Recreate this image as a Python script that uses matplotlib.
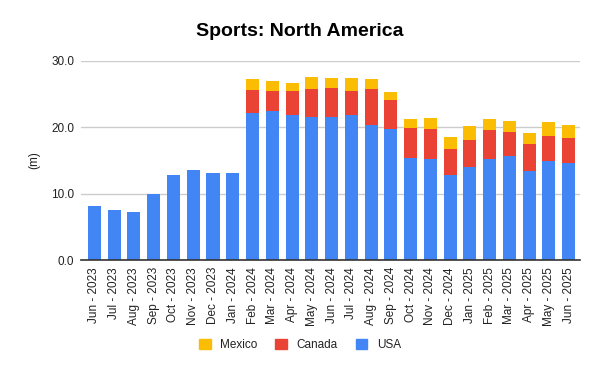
import matplotlib
matplotlib.use("Agg")
import matplotlib.pyplot as plt
from matplotlib.patches import Patch

plt.rcParams['font.family'] = ['Liberation Sans', 'DejaVu Sans']

months = ["Jun - 2023", "Jul - 2023", "Aug - 2023", "Sep - 2023", "Oct - 2023",
          "Nov - 2023", "Dec - 2023", "Jan - 2024", "Feb - 2024", "Mar - 2024",
          "Apr - 2024", "May - 2024", "Jun - 2024", "Jul - 2024", "Aug - 2024",
          "Sep - 2024", "Oct - 2024", "Nov - 2024", "Dec - 2024", "Jan - 2025",
          "Feb - 2025", "Mar - 2025", "Apr - 2025", "May - 2025", "Jun - 2025"]

usa = [8.1, 7.5, 7.2, 10.0, 12.8, 13.6, 13.1, 13.1, 22.2, 22.4, 21.8, 21.6, 21.5,
       21.8, 20.3, 19.8, 15.4, 15.2, 12.8, 14.0, 15.2, 15.7, 13.4, 14.9, 14.6]
canada = [0, 0, 0, 0, 0, 0, 0, 0, 3.4, 3.1, 3.7, 4.2, 4.4,
          3.7, 5.5, 4.3, 4.5, 4.6, 3.9, 4.1, 4.4, 3.6, 4.1, 3.8, 3.8]
mexico = [0, 0, 0, 0, 0, 0, 0, 0, 1.7, 1.4, 1.2, 1.8, 1.5,
          1.9, 1.5, 1.2, 1.4, 1.6, 1.8, 2.1, 1.7, 1.7, 1.7, 2.1, 2.0]

c_usa, c_can, c_mex = "#4285F4", "#EA4335", "#FBBC04"

fig = plt.figure(figsize=(6, 3.71), dpi=100)
ax = fig.add_axes([0.135, 0.299, 0.832, 0.537])

x = list(range(len(months)))
w = 0.66
ax.bar(x, usa, width=w, color=c_usa, zorder=3)
bottom2 = [u for u in usa]
ax.bar(x, canada, width=w, bottom=bottom2, color=c_can, zorder=3)
bottom3 = [u + c for u, c in zip(usa, canada)]
ax.bar(x, mexico, width=w, bottom=bottom3, color=c_mex, zorder=3)

ax.set_xlim(-0.68, 24.58)
ax.set_ylim(0, 30)
ax.set_yticks([0, 10, 20, 30])
ax.set_yticklabels(["0.0", "10.0", "20.0", "30.0"], fontsize=8.5, color="#222222")
ax.set_xticks(x)
ax.set_xticklabels(months, rotation=90, fontsize=8.5, color="#222222")
ax.tick_params(length=0, pad=5)
ax.grid(axis="y", color="#CCCCCC", linewidth=1, zorder=0)
for s in ["top", "right", "left"]:
    ax.spines[s].set_visible(False)
ax.spines["bottom"].set_color("#333333")
ax.spines["bottom"].set_linewidth(1.2)
ax.spines["bottom"].set_zorder(4)

ax.set_ylabel("(m)", fontsize=8.5, color="#222222", labelpad=8)

fig.text(0.5, 0.915, "Sports: North America", ha="center", va="center",
         fontsize=14, fontweight="bold", color="#000000")

handles = [Patch(color=c_mex, label="Mexico"), Patch(color=c_can, label="Canada"),
           Patch(color=c_usa, label="USA")]
fig.legend(handles=handles, loc="center", bbox_to_anchor=(0.5, 0.07), ncol=3,
           frameon=False, fontsize=8.5, handlelength=1.0, handleheight=1.0,
           handletextpad=0.8, columnspacing=1.5, labelcolor="#222222")

fig.savefig("out.png", dpi=100)
